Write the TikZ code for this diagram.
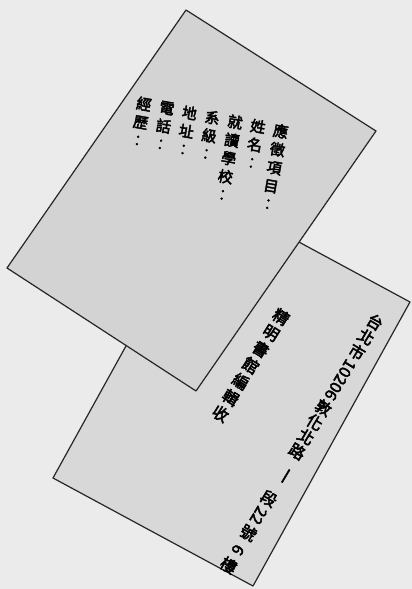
\documentclass[tikz,border=0pt]{standalone}
\usepackage{fontspec}
\newfontfamily\cjk[AutoFakeBold=3]{Noto Sans CJK TC}
\definecolor{pagebg}{HTML}{EBEBEB}
\definecolor{frontfill}{HTML}{D3D3D3}
\definecolor{backfill}{HTML}{D8D8D8}
\tikzset{
  card/.style={draw=black!85, line width=1.2pt, line join=round},
  fcol/.style={font=\cjk\bfseries\fontsize{15}{18.5}\selectfont, align=center, anchor=north, inner sep=0pt, text width=16pt, rotate=-10},
  bch/.style={font=\cjk\bfseries\fontsize{16}{17}\selectfont, inner sep=0pt, anchor=center},
}
\begin{document}
\begin{tikzpicture}[x=1pt,y=-1pt]
\useasboundingbox (0,0) rectangle (412,589);
\fill[pagebg] (0,0) rectangle (412,589);
% back card
\coordinate (bT) at (210,194);
\coordinate (bR) at (410,302);
\coordinate (bB) at (253,586);
\coordinate (bL) at (53,478);
\filldraw[card, fill=backfill] (bT) -- (bR) -- (bB) -- (bL) -- cycle;
% front card
\coordinate (fT) at (186,10);
\coordinate (fR) at (376,131);
\coordinate (fB) at (196,391);
\coordinate (fL) at (7,268);
\filldraw[card, fill=frontfill] (fT) -- (fR) -- (fB) -- (fL) -- cycle;
% front card text
\node[fcol] (c0) at (282,124) {應\\徵\\項\\目\\︰};
\node[fcol] (c1) at (259.2,119.5) {姓\\名\\︰};
\node[fcol] (c2) at (236.4,115) {就\\讀\\學\\校\\︰};
\node[fcol] (c3) at (213.6,110.5) {系\\級\\︰};
\node[fcol] (c4) at (190.8,106) {地\\址\\︰};
\node[fcol] (c5) at (168,101.5) {電\\話\\︰};
\node[fcol] (c6) at (145.2,97) {經\\歷\\︰};
% back card text: address column
\begin{scope}[shift={(375,322)}, rotate=-31, transform shape]
  \foreach \c/\d [count=\i] in {台/0, 北/17.5, 市/35, 敦/100, 化/117, 北/134, 路/151, 段/206, 號/246, 樓/284}
    \node[bch] (a\i) at (0,\d) {\c};
  \node[bch, rotate=-90] (z1) at (0,67.5) {10206};
  \node[bch, rotate=-90] (dash) at (0,178) {一};
  \node[bch, rotate=-90] (z2) at (0,226) {22};
  \node[bch, rotate=-90] (z3) at (0,266) {6};
\end{scope}
% back card text: recipient column
\begin{scope}[shift={(281,317)}, rotate=-32, transform shape]
  \foreach \c [count=\i] in {精, 明, 書, 館, 編, 輯, 收}
    \node[bch] (r\i) at (0,{(\i-1)*19}) {\c};
\end{scope}
\end{tikzpicture}
\end{document}
